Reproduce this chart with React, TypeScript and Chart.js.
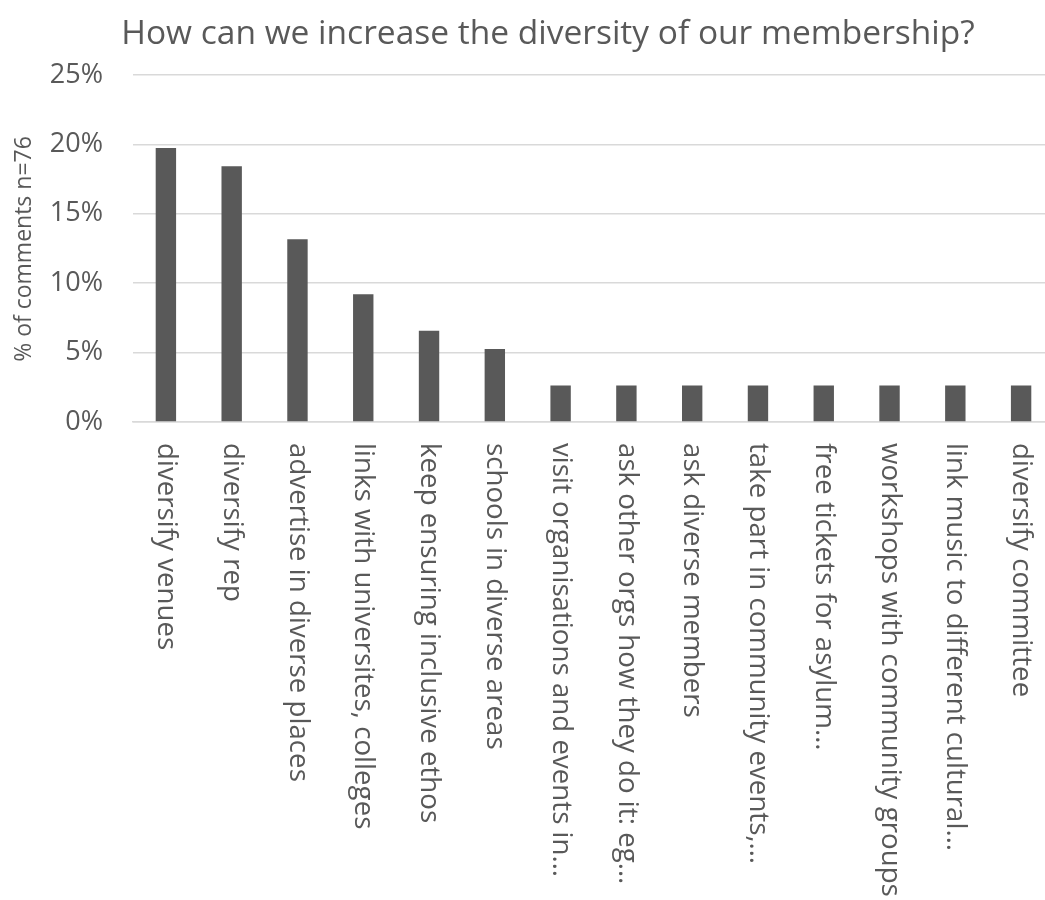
import React, { useEffect, useRef } from "react";
import { Chart, registerables } from "chart.js";

Chart.register(...registerables);

const title = "How can we increase the diversity of our membership?";
const yAxisTitle = "% of comments n=76";
const categories = [
  "diversify venues",
  "diversify rep",
  "advertise in diverse places",
  "links with universites, colleges",
  "keep ensuring inclusive ethos",
  "schools in diverse areas",
  "visit organisations and events in…",
  "ask other orgs how they do it: eg…",
  "ask diverse members",
  "take part in community events,…",
  "free tickets for asylum…",
  "workshops with community groups",
  "link music to different cultural…",
  "diversify committee",
];
const values = [19.74, 18.42, 13.16, 9.21, 6.58, 5.26, 2.63, 2.63, 2.63, 2.63, 2.63, 2.63, 2.63, 2.63];
const yTicks = [0, 5, 10, 15, 20, 25];

const FONT = "'Open Sans', sans-serif";
const TEXT = "#595959";

export default function App() {
  const ref = useRef<HTMLCanvasElement | null>(null);
  useEffect(() => {
    const canvas = ref.current!;
    const textPlugin = {
      id: "textPlugin",
      afterDraw(chart: any) {
        const ctx = chart.ctx;
        const xs = chart.scales.x;
        ctx.save();
        ctx.fillStyle = TEXT;
        // title
        ctx.font = `33.5px ${FONT}`;
        ctx.textAlign = "center";
        ctx.textBaseline = "middle";
        ctx.fillText(title, 548, 34);
        // y axis title
        ctx.save();
        ctx.translate(24, 249);
        ctx.rotate(-Math.PI / 2);
        ctx.font = `23px ${FONT}`;
        ctx.fillText(yAxisTitle, 0, 0);
        ctx.restore();
        // x labels rotated clockwise
        ctx.font = `27.7px ${FONT}`;
        ctx.textAlign = "left";
        ctx.textBaseline = "middle";
        categories.forEach((c, i) => {
          const x = xs.getPixelForTick(i);
          ctx.save();
          ctx.translate(x, 443);
          ctx.rotate(Math.PI / 2);
          ctx.fillText(c, 0, 0);
          ctx.restore();
        });
        ctx.restore();
      },
    };
    const chart = new Chart(canvas, {
      type: "bar",
      data: {
        labels: categories,
        datasets: [
          {
            data: values,
            backgroundColor: "#595959",
            barPercentage: 0.31,
            categoryPercentage: 1,
          },
        ],
      },
      options: {
        responsive: false,
        animation: false,
        layout: { padding: { top: 75, right: 6, left: 0, bottom: 0 } },
        plugins: { legend: { display: false }, tooltip: { enabled: false }, title: { display: false } },
        scales: {
          x: {
            grid: { display: false },
            border: { color: "#d9d9d9", width: 1.5 },
            ticks: { display: false },
            afterFit(scale: any) {
              scale.height = 478;
            },
          },
          y: {
            min: 0,
            max: 25,
            afterBuildTicks(scale: any) {
              scale.ticks = yTicks.map((v) => ({ value: v }));
            },
            grid: { color: "#d9d9d9", lineWidth: 1.5, drawTicks: false },
            border: { display: false },
            ticks: {
              padding: 30,
              color: TEXT,
              font: { family: FONT, size: 27 },
              callback: (v: any) => v + "%",
            },
            afterFit(scale: any) {
              scale.width = 133;
            },
          },
        },
      },
      plugins: [textPlugin],
    });
    return () => chart.destroy();
  }, []);
  return (
    <div style={{ position: "absolute", left: 0, top: 0, width: 1045, height: 900, overflow: "hidden", background: "#fff" }}>
      <canvas ref={ref} width={1060} height={900} />
    </div>
  );
}
